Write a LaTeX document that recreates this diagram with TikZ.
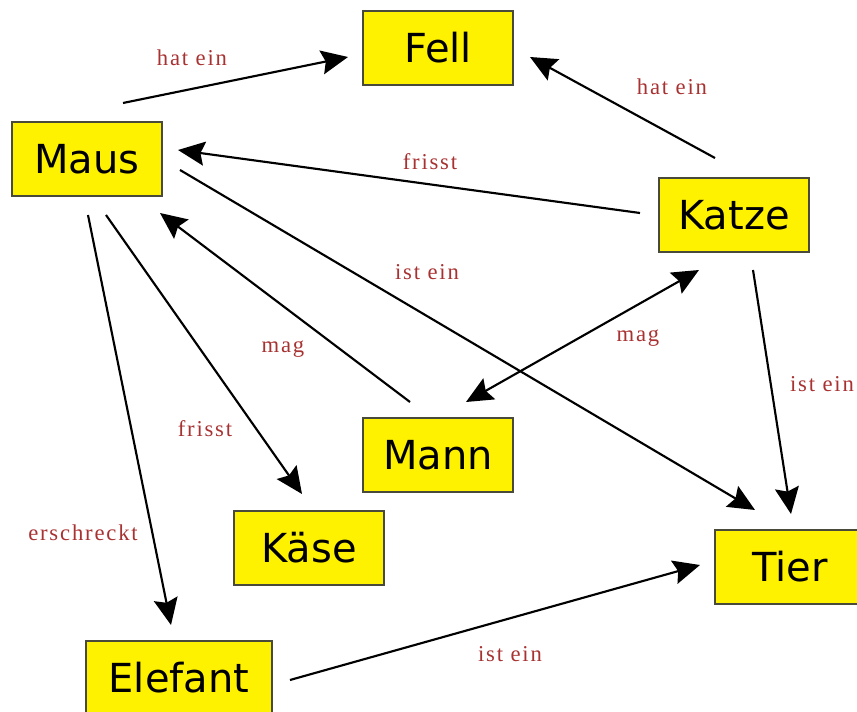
\documentclass[tikz,border=0pt]{standalone}
\usepackage{fontspec}
\setmainfont{DejaVu Sans}
\newfontfamily\lblfont[LetterSpace=8]{Liberation Serif}
\usetikzlibrary{arrows.meta}
\definecolor{lblred}{HTML}{A83232}
\definecolor{boxline}{HTML}{4A4A3A}

\tikzset{
  concept/.style={draw=boxline, line width=1.1pt, fill=yellow, rectangle,
    minimum width=112.5pt, minimum height=55.5pt, inner sep=0pt,
    font=\fontsize{30pt}{35pt}\selectfont},
  rel/.style={lblred, inner sep=0pt, font=\lblfont\fontsize{17pt}{20pt}\selectfont},
  arr/.style={line width=1.6pt, -{Stealth[length=20pt, width=18pt, inset=3pt]}}
}

\begin{document}
\begin{tikzpicture}[x=0.75pt, y=-0.75pt]
\useasboundingbox (0,0) rectangle (857,712);

\node[concept] (Fell) at (438,48) {Fell};
\node[concept] (Maus) at (87,159) {Maus};
\node[concept] (Katze) at (734,215) {Katze};
\node[concept] (Mann) at (438,455) {Mann};
\node[concept] (Kase) at (309,548) {Käse};
\node[concept] (Tier) at (790,567) {Tier};
\node[concept, minimum width=139.5pt] (Elefant) at (179,678) {Elefant};

% hat ein
\draw[arr] ([shift={(36,-56)}]Maus.center) -- ([shift={(-90,9)}]Fell.center)
  node[rel] at (192,58) {hat ein};
\draw[arr] ([shift={(-19,-57)}]Katze.center) -- ([shift={(92,9)}]Fell.center)
  node[rel] at (672,87) {hat ein};

% frisst
\draw[arr] ([shift={(-94,-2)}]Katze.center) -- ([shift={(91,-9)}]Maus.center)
  node[rel] at (430,162) {frisst};
\draw[arr] ([shift={(19,56)}]Maus.center) -- ([shift={(-7,-54)}]Kase.center)
  node[rel] at (205,429) {frisst};

% mag
\draw[arr] ([shift={(-28,-53)}]Mann.center) -- ([shift={(73,54)}]Maus.center)
  node[rel] at (283,349) {mag};
\draw[arr, {Stealth[length=20pt, width=18pt, inset=3pt]}-{Stealth[length=20pt, width=18pt, inset=3pt]}]
  ([shift={(28,-53)}]Mann.center) -- ([shift={(-35,55)}]Katze.center)
  node[rel] at (638,338) {mag};

\draw[arr] ([shift={(1,56)}]Maus.center) -- ([shift={(-8,-53)}]Elefant.center)
  node[rel] at (83,533) {erschreckt};

% ist ein
\draw[arr] ([shift={(93,11)}]Maus.center) -- ([shift={(-35,-57)}]Tier.center)
  node[rel] at (427,272) {ist ein};
\draw[arr] ([shift={(19,55)}]Katze.center) -- ([shift={(1,-53)}]Tier.center)
  node[rel] at (822,384) {ist ein};
\draw[arr] ([shift={(111,2)}]Elefant.center) -- ([shift={(-90,-2)}]Tier.center)
  node[rel] at (510,654) {ist ein};

\end{tikzpicture}
\end{document}
